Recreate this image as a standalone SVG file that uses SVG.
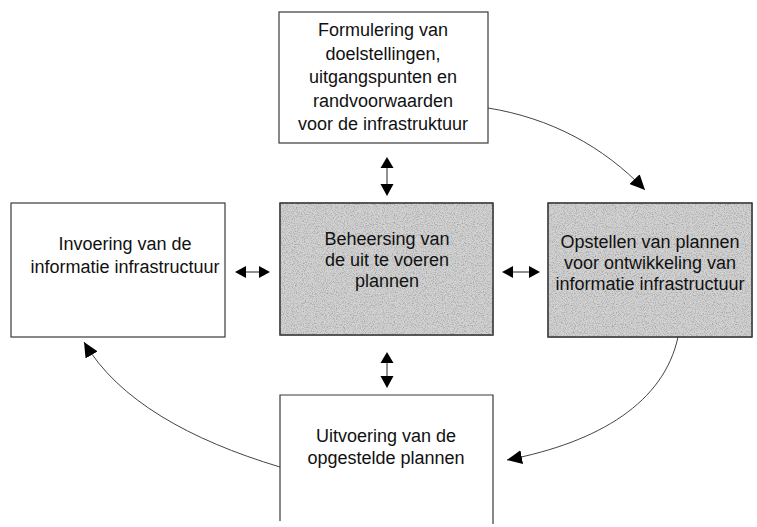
<svg xmlns="http://www.w3.org/2000/svg" width="757" height="527" viewBox="0 0 757 527">
  <defs>
    <style>
      .box { fill: #ffffff; stroke: #3a3a3a; stroke-width: 1.2; }
      .shade { fill: #d2d2d2; stroke: #3a3a3a; stroke-width: 1.2; }
      .edge { fill: none; stroke: #3a3a3a; stroke-width: 1.2; }
      .label { font-family: "Liberation Sans", Arial, sans-serif; font-size: 18px; fill: #111111; text-anchor: middle; }
      .flow { fill: none; stroke: #444444; stroke-width: 1; }
      .stem { stroke: #222222; stroke-width: 1; }
      .head { fill: #000000; }
    </style>
    <marker id="tip" markerUnits="userSpaceOnUse" markerWidth="16" markerHeight="14" refX="15" refY="7" orient="auto">
      <path d="M0,0 L15,7 L0,14 z" fill="#000000"/>
    </marker>
    <!-- halftone speckle for the shaded boxes -->
    <filter id="grain" x="0" y="0" width="100%" height="100%">
      <feTurbulence type="fractalNoise" baseFrequency="0.9" numOctaves="2" seed="7" result="n"/>
      <feColorMatrix in="n" type="matrix" values="0 0 0 0 0.35  0 0 0 0 0.35  0 0 0 0 0.35  2.4 0 0 0 -1.05"/>
      <feComposite in2="SourceGraphic" operator="in"/>
    </filter>
  </defs>

  <!-- connectors -->
  <g id="connectors">
    <path class="flow" d="M488,108 C550,118 603,146 645,190" marker-end="url(#tip)"/>
    <path class="flow" d="M678,337 C664,402 600,442 507,460" marker-end="url(#tip)"/>
    <path class="flow" d="M280,467 C190,440 118,400 84,342" marker-end="url(#tip)"/>

    <!-- top box <-> centre -->
    <line class="stem" x1="387" y1="166" x2="387" y2="186"/>
    <polygon class="head" points="387,157 380.5,168 393.5,168"/>
    <polygon class="head" points="387,196 380.5,184 393.5,184"/>

    <!-- centre <-> bottom box -->
    <line class="stem" x1="387" y1="361" x2="387" y2="378"/>
    <polygon class="head" points="387,352 380.5,363 393.5,363"/>
    <polygon class="head" points="387,388 380.5,376 393.5,376"/>

    <!-- left box <-> centre -->
    <line class="stem" x1="244" y1="272" x2="261" y2="272"/>
    <polygon class="head" points="235,272 246,266 246,278"/>
    <polygon class="head" points="270,272 259,266 259,278"/>

    <!-- centre <-> right box -->
    <line class="stem" x1="511" y1="272" x2="531" y2="272"/>
    <polygon class="head" points="502,272 513,266 513,278"/>
    <polygon class="head" points="540,272 529,266 529,278"/>
  </g>

  <g id="node-formulering">
    <rect class="box" x="279" y="12" width="209" height="131"/>
    <text class="label" x="383" y="36">Formulering van</text>
    <text class="label" x="383" y="59.5">doelstellingen,</text>
    <text class="label" x="383" y="83">uitgangspunten en</text>
    <text class="label" x="383" y="106.5">randvoorwaarden</text>
    <text class="label" x="383" y="130">voor de infrastruktuur</text>
  </g>

  <g id="node-invoering">
    <rect class="box" x="11" y="203" width="214" height="134"/>
    <text class="label" x="125" y="250">Invoering van de</text>
    <text class="label" x="125" y="273">informatie infrastructuur</text>
  </g>

  <g id="node-beheersing">
    <rect class="shade" x="280" y="203" width="213" height="132"/>
    <rect x="280" y="203" width="213" height="132" fill="#d2d2d2" filter="url(#grain)"/>
    <rect class="edge" x="280" y="203" width="213" height="132"/>
    <text class="label" x="387" y="245">Beheersing van</text>
    <text class="label" x="387" y="266">de uit te voeren</text>
    <text class="label" x="387" y="287">plannen</text>
  </g>

  <g id="node-opstellen">
    <rect class="shade" x="548" y="203" width="204" height="134"/>
    <rect x="548" y="203" width="204" height="134" fill="#d2d2d2" filter="url(#grain)"/>
    <rect class="edge" x="548" y="203" width="204" height="134"/>
    <text class="label" x="650" y="248">Opstellen van plannen</text>
    <text class="label" x="650" y="269">voor ontwikkeling van</text>
    <text class="label" x="650" y="290">informatie infrastructuur</text>
  </g>

  <g id="node-uitvoering">
    <path class="edge" d="M280,521 L280,395 L493,395 L493,524"/>
    <text class="label" x="386" y="442">Uitvoering van de</text>
    <text class="label" x="386" y="464">opgestelde plannen</text>
  </g>
</svg>
